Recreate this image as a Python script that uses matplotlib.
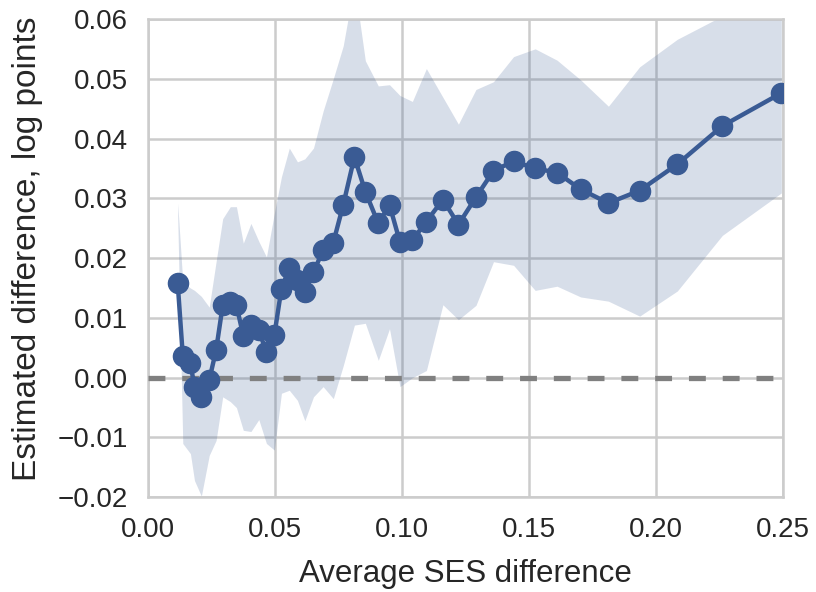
import numpy as np
import matplotlib
matplotlib.use("Agg")
import matplotlib.pyplot as plt
import seaborn as sns

# binned average SES difference vs. estimated difference (log points), with CI band
ses_diff = [0.0118, 0.0138, 0.0168, 0.0184, 0.0211, 0.0242, 0.0269, 0.0295, 0.0325, 0.0349,
            0.0376, 0.0406, 0.0437, 0.0467, 0.0498, 0.0526, 0.0557, 0.0589, 0.0618, 0.0652,
            0.0690, 0.0730, 0.0769, 0.0813, 0.0856, 0.0907, 0.0951, 0.0992, 0.1041, 0.1096,
            0.1161, 0.1222, 0.1291, 0.1360, 0.1439, 0.1524, 0.1610, 0.1703, 0.1812, 0.1935,
            0.2083, 0.2260, 0.2492]
estimate = [0.0158, 0.0037, 0.0024, -0.0015, -0.0032, -0.0004, 0.0046, 0.0121, 0.0127, 0.0121,
            0.0070, 0.0088, 0.0079, 0.0043, 0.0071, 0.0149, 0.0183, 0.0163, 0.0144, 0.0177,
            0.0213, 0.0226, 0.0289, 0.0369, 0.0311, 0.0258, 0.0289, 0.0227, 0.0230, 0.0261,
            0.0298, 0.0256, 0.0302, 0.0346, 0.0362, 0.0350, 0.0343, 0.0315, 0.0292, 0.0313,
            0.0357, 0.0421, 0.0476]
ci_low = [0.0270, -0.0110, -0.0127, -0.0172, -0.0198, -0.0130, -0.0105, -0.0032, -0.0040, -0.0050,
          -0.0088, -0.0090, -0.0070, -0.0110, -0.0121, -0.0026, -0.0021, -0.0038, -0.0072, -0.0032,
          -0.0015, -0.0035, 0.0020, 0.0088, 0.0091, 0.0029, 0.0082, -0.0015, 0.0000, 0.0012,
          0.0122, 0.0097, 0.0121, 0.0194, 0.0188, 0.0146, 0.0153, 0.0135, 0.0128, 0.0103,
          0.0145, 0.0238, 0.0309]
ci_high = [0.0292, 0.0160, 0.0150, 0.0146, 0.0136, 0.0118, 0.0194, 0.0266, 0.0286, 0.0286,
           0.0225, 0.0258, 0.0228, 0.0202, 0.0275, 0.0336, 0.0384, 0.0361, 0.0366, 0.0384,
           0.0446, 0.0500, 0.0555, 0.0660, 0.0530, 0.0488, 0.0490, 0.0472, 0.0462, 0.0517,
           0.0469, 0.0424, 0.0482, 0.0495, 0.0537, 0.0550, 0.0531, 0.0498, 0.0454, 0.0520,
           0.0566, 0.0605, 0.0680]

sns.set_style("whitegrid")
plt.rcParams['font.family'] = ['Liberation Sans', 'DejaVu Sans']

blue = '#3a5b94'
grid_grey = '#cccccc'
text_col = '#262626'

fig, ax = plt.subplots(figsize=(8.16, 5.92), dpi=100)
fig.subplots_adjust(left=0.181, right=0.96, top=0.968, bottom=0.16)

ax.fill_between(ses_diff, ci_low, ci_high, color=blue, alpha=0.2, linewidth=0, zorder=2)
ax.plot(ses_diff, estimate, color=blue, linewidth=3.2, marker='o', markersize=14.5, zorder=4)
ax.axhline(0, color='#808080', linewidth=3.8, dashes=(3.2, 3.2), zorder=3)

ax.set_xlim(0, 0.25)
ax.set_ylim(-0.02, 0.06)
ax.set_xticks(np.arange(0, 0.2501, 0.05))
ax.set_yticks(np.arange(-0.02, 0.0601, 0.01))
fmt = matplotlib.ticker.FuncFormatter(lambda v, pos: ('%.2f' % v).replace('-', '\u2212'))
ax.xaxis.set_major_formatter(fmt)
ax.yaxis.set_major_formatter(fmt)

ax.grid(True, color=grid_grey, linewidth=1.8, zorder=1)
ax.set_axisbelow(True)
for sp in ax.spines.values():
    sp.set_color(grid_grey)
    sp.set_linewidth(1.8)

ax.tick_params(axis='both', length=0, pad=14, labelsize=20, labelcolor=text_col)
ax.set_xlabel('Average SES difference', fontsize=22.5, color=text_col, labelpad=12)
ax.set_ylabel('Estimated difference, log points', fontsize=24, color=text_col,
              labelpad=11, y=0.52)

fig.savefig('out.png', dpi=100)
